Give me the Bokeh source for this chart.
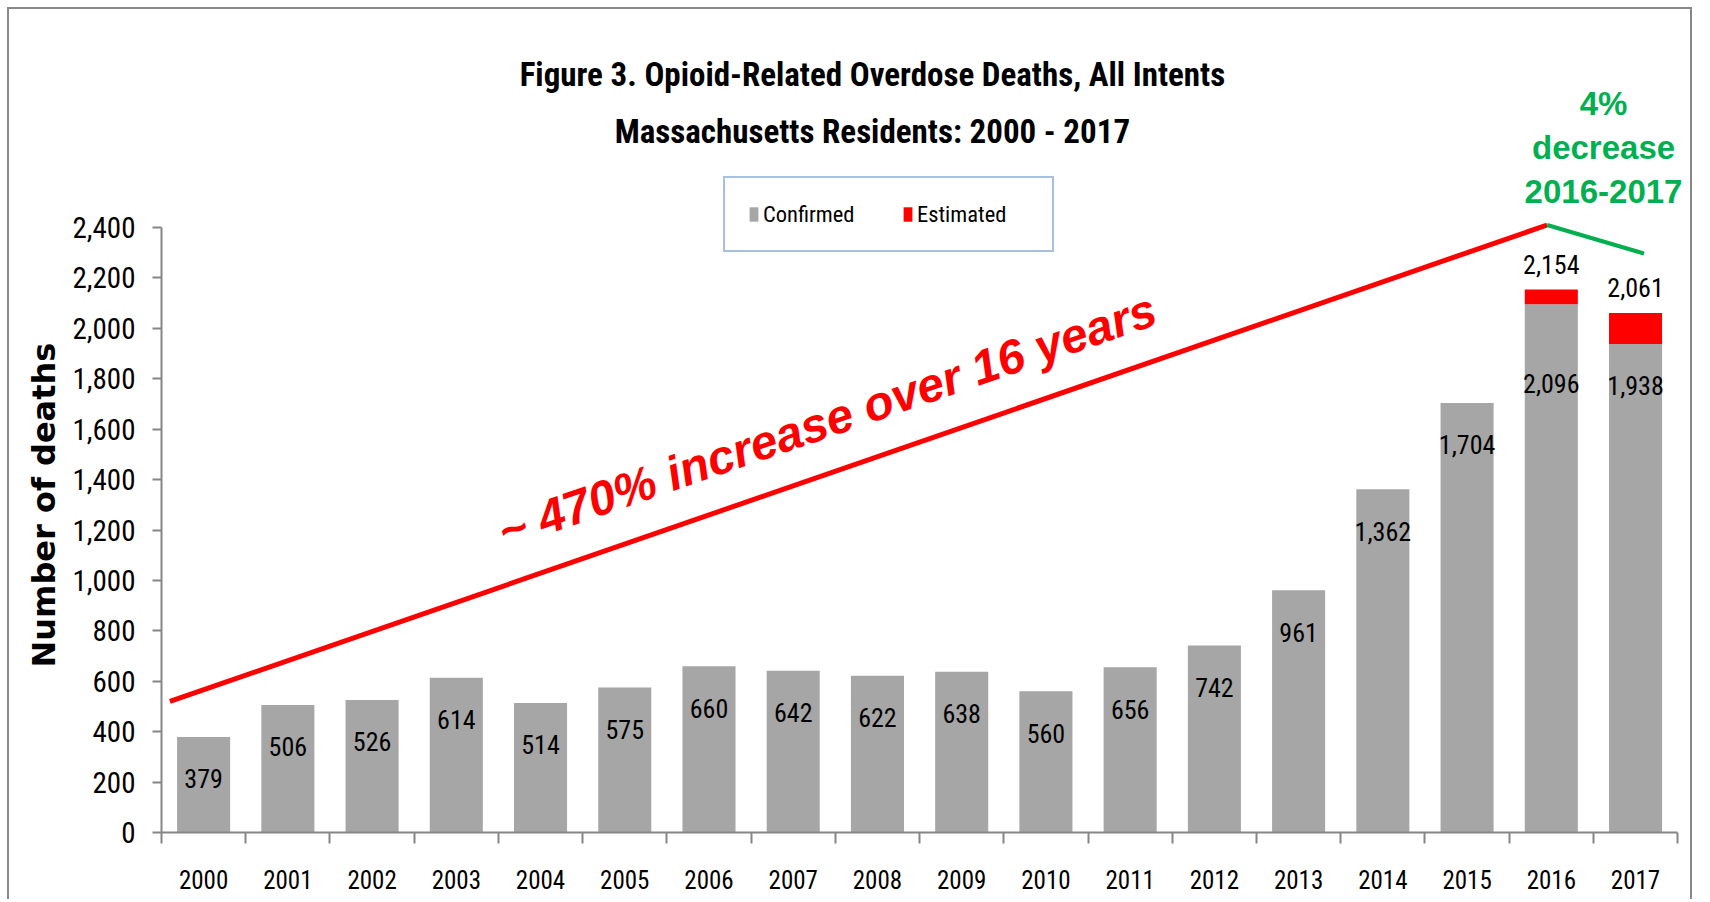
from bokeh.plotting import figure
from bokeh.models import (Range1d, FixedTicker, Label, LabelSet, ColumnDataSource,
                          Legend, LegendItem, NumeralTickFormatter, Title)
from bokeh.core.properties import value
from bokeh.embed import file_html
from bokeh.resources import INLINE

# ---------------- data ----------------
years = ["2000", "2001", "2002", "2003", "2004", "2005", "2006", "2007", "2008",
         "2009", "2010", "2011", "2012", "2013", "2014", "2015", "2016", "2017"]
confirmed = [379, 506, 526, 614, 514, 575, 660, 642, 622, 638, 560, 656, 742,
             961, 1362, 1704, 2096, 1938]
estimated = [0, 0, 0, 0, 0, 0, 0, 0, 0, 0, 0, 0, 0, 0, 0, 0, 58, 123]
y_ticks = [0, 200, 400, 600, 800, 1000, 1200, 1400, 1600, 1800, 2000, 2200, 2400]

# annotation lines (data space: x in category units, y in deaths)
trend_x = [0.1, 16.45]
trend_y = [520, 2410]
decrease_x = [16.45, 17.6]
decrease_y = [2410, 2297]

title_lines = ["Figure 3. Opioid-Related Overdose Deaths, All Intents",
               "Massachusetts Residents: 2000 - 2017"]
increase_text = "~ 470% increase over 16 years"
decrease_text = "4%\ndecrease\n2016-2017"

# ---------------- derived ----------------
n = len(years)
xs = [i + 0.5 for i in range(n)]
totals = [c + e for c, e in zip(confirmed, estimated)]
conf_text = [f"{v:,}" for v in confirmed]
label_dy = [-42] * n
label_dy[years.index("2016")] = -79

src = ColumnDataSource(dict(x=xs, confirmed=confirmed, estimated=estimated,
                            text=conf_text, dy=label_dy))
est_idx = [i for i, e in enumerate(estimated) if e > 0]
tot_src = ColumnDataSource(dict(x=[xs[i] for i in est_idx],
                                y=[totals[i] for i in est_idx],
                                text=[f"{totals[i]:,}" for i in est_idx]))

NARROW = "'Roboto Condensed', 'DejaVu Sans Condensed', 'Liberation Sans Narrow', Lato, sans-serif"
GRAY = "#A6A6A6"
AXIS = "#868686"

p = figure(width=1685, height=892, x_range=Range1d(0, n + 0.2), y_range=Range1d(0, 3257),
           output_backend="svg", toolbar_location=None,
           min_border_left=152, min_border_right=0, min_border_top=2, min_border_bottom=69)
p.margin = (7, 0, 0, 7)
p.styles = {"border-top": "2px solid #888888", "border-left": "2px solid #888888",
            "border-right": "2px solid #888888"}
p.xgrid.grid_line_color = None
p.ygrid.grid_line_color = None
p.outline_line_color = None
p.background_fill_color = "white"
p.border_fill_color = "white"

rs = p.vbar_stack(["confirmed", "estimated"], x="x", width=0.63, source=src,
                  fill_color=[GRAY, "#FF0000"], line_color=None)

# x axis
p.xaxis.bounds = (0, n)
p.xaxis.ticker = FixedTicker(ticks=xs, minor_ticks=list(range(n + 1)))
p.xaxis.major_label_overrides = {x: y for x, y in zip(xs, years)}
p.xaxis.major_tick_line_color = None
p.xaxis.major_tick_out = 0
p.xaxis.major_tick_in = 0
p.xaxis.minor_tick_out = 11
p.xaxis.minor_tick_in = 0
p.xaxis.minor_tick_line_color = AXIS
p.xaxis.minor_tick_line_width = 2
p.xaxis.axis_line_color = AXIS
p.xaxis.axis_line_width = 2
p.xaxis.major_label_standoff = 26
p.xaxis.major_label_text_font = NARROW
p.xaxis.major_label_text_font_size = "25px"
p.xaxis.major_label_text_color = "black"

# y axis
p.yaxis.bounds = (0, 2400)
p.yaxis.ticker = FixedTicker(ticks=y_ticks)
p.yaxis.formatter = NumeralTickFormatter(format="0,0")
p.yaxis.minor_tick_line_color = None
p.yaxis.major_tick_out = 9
p.yaxis.major_tick_in = 0
p.yaxis.major_tick_line_color = AXIS
p.yaxis.major_tick_line_width = 2
p.yaxis.axis_line_color = AXIS
p.yaxis.axis_line_width = 2
p.yaxis.major_label_standoff = 17
p.yaxis.major_label_text_font = NARROW
p.yaxis.major_label_text_font_size = "29px"
p.yaxis.major_label_text_color = "black"

# y axis title, placed beside the axis on the left
p.add_layout(Title(text="Number of deaths", align="left", offset=165, standoff=14,
                   text_font="DejaVu Sans", text_font_style="bold",
                   text_font_size="32px", text_color="black"), "left")

# bar labels
p.add_layout(LabelSet(x="x", y="confirmed", text="text", y_offset="dy", source=src,
                      text_align="center", text_baseline="middle",
                      text_font=value(NARROW), text_font_size="26px", text_color="black"))
p.add_layout(LabelSet(x="x", y="y", text="text", y_offset=25, source=tot_src,
                      text_align="center", text_baseline="middle",
                      text_font=value(NARROW), text_font_size="26px", text_color="black"))

# trend lines
p.line(trend_x, trend_y, line_color="#FF0000", line_width=5)
p.line(decrease_x, decrease_y, line_color="#00B050", line_width=4)

p.add_layout(Label(x=7.9, y=1634, text=increase_text, angle=19, angle_units="deg",
                   text_align="center", text_baseline="middle",
                   text_font="Liberation Sans", text_font_style="bold italic",
                   text_font_size="48px", text_color="#FF0000"))
p.add_layout(Label(x=17.12, y=2717, text=decrease_text,
                   text_align="center", text_baseline="middle",
                   text_font="Liberation Sans", text_font_style="bold",
                   text_font_size="33px", text_color="#00B050", text_line_height=1.18))

# title
for ty, line in zip([3007, 2781], title_lines):
    p.add_layout(Label(x=8.44, y=ty, text=line, text_align="center", text_baseline="middle",
                       text_font=NARROW, text_font_style="bold",
                       text_font_size="33px", text_color="black"))

# legend
legend = Legend(items=[LegendItem(label="Confirmed", renderers=[rs[0]]),
                       LegendItem(label="Estimated", renderers=[rs[1]])],
                orientation="horizontal", location=(562, 580),
                border_line_color="#4F81BD", border_line_width=2,
                background_fill_color="white", background_fill_alpha=1,
                padding=23, spacing=27, label_standoff=4,
                glyph_width=11, glyph_height=18, label_width=112,
                label_text_font=NARROW, label_text_font_size="22.5px",
                label_text_color="black", margin=0)
p.add_layout(legend, "center")

open("out.html", "w").write(file_html(p, INLINE))
